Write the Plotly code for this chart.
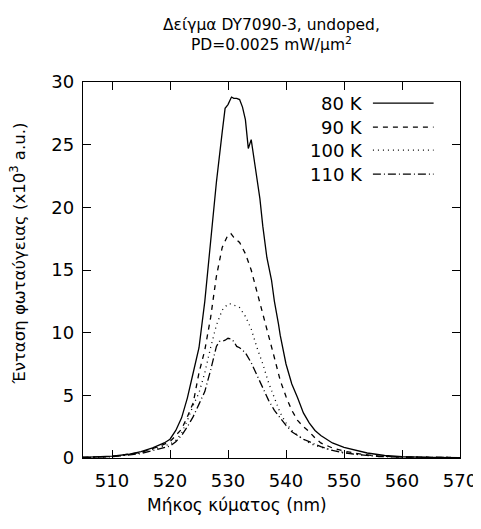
import plotly.graph_objects as go

# ---- data ----
wl_80 = [505, 510, 513, 515, 517, 519, 520, 521, 522, 523, 524, 525, 526, 527, 528, 529, 529.5, 530, 530.6, 531, 531.5, 532, 532.5, 533, 533.5, 534, 535, 535.5, 536, 536.7, 537.5, 538, 538.7, 539, 540, 541, 542, 543, 544, 545, 546, 548, 550, 552, 554, 557, 560, 565, 570]
i_80 = [0.05, 0.15, 0.3, 0.5, 0.8, 1.2, 1.5, 2.2, 3.2, 4.8, 6.8, 8.8, 12.5, 17.5, 22.0, 26.0, 27.9, 28.2, 28.8, 28.7, 28.7, 28.6, 28.0, 27.0, 24.7, 25.4, 22.5, 20.7, 18.5, 16.0, 14.2, 12.5, 10.7, 9.8, 7.5, 5.9, 4.8, 3.6, 2.8, 2.2, 1.8, 1.2, 0.85, 0.6, 0.4, 0.2, 0.1, 0.05, 0.03]

wl_90 = [505, 510, 515, 518, 520, 522, 523, 524, 525, 526, 527, 528, 529, 530, 530.5, 531, 532, 533, 534, 535, 536, 537, 538, 539, 540, 541, 542, 543, 544, 545, 546, 548, 550, 553, 556, 560, 570]
i_90 = [0.05, 0.12, 0.45, 0.9, 1.3, 2.3, 3.3, 4.4, 6.8, 8.6, 11.2, 14.5, 16.8, 17.8, 17.9, 17.6, 17.2, 16.3, 15.0, 13.3, 11.6, 9.8, 8.0, 6.2, 4.9, 3.8, 3.0, 2.5, 2.1, 1.6, 1.2, 0.8, 0.55, 0.3, 0.15, 0.08, 0.03]

wl_100 = [505, 510, 515, 518, 520, 521, 522, 523, 524, 525, 526, 527, 528, 529, 530, 530.5, 531, 532, 533, 534, 535, 536, 537, 538, 539, 540, 541, 542, 543, 544, 545, 546, 548, 550, 553, 556, 560, 570]
i_100 = [0.04, 0.12, 0.4, 0.8, 1.1, 1.4, 2.0, 3.0, 4.2, 5.2, 6.8, 8.8, 10.6, 11.8, 12.3, 12.3, 12.2, 12.0, 11.3, 10.3, 8.8, 7.5, 6.0, 4.8, 3.6, 2.8, 2.2, 1.8, 1.5, 1.2, 1.0, 0.85, 0.6, 0.45, 0.25, 0.15, 0.08, 0.03]

wl_110 = [505, 510, 515, 518, 520, 521, 522, 523, 524, 525, 526, 527, 528, 528.5, 529, 529.5, 530, 530.5, 531, 531.5, 532, 533, 534, 535, 536, 537, 538, 539, 540, 541, 542, 543, 544, 545, 546, 548, 550, 553, 556, 560, 570]
i_110 = [0.04, 0.1, 0.35, 0.7, 0.95, 1.3, 1.8, 2.5, 3.3, 4.3, 5.3, 7.0, 8.9, 9.3, 9.3, 9.4, 9.55, 9.5, 9.3, 8.9, 8.8, 8.4, 7.6, 6.6, 5.6, 4.6, 3.8, 3.2, 2.6, 2.1, 1.8, 1.5, 1.3, 1.1, 0.9, 0.6, 0.4, 0.25, 0.12, 0.07, 0.03]

labels = ["80 K", "90 K", "100 K", "110 K"]
dashes = ["solid", "5px,5px", "1px,4px", "8px,3px,1px,3px"]

x_ticks = [510, 520, 530, 540, 550, 560, 570]
y_ticks = [0, 5, 10, 15, 20, 25, 30]

FONT = "DejaVu Sans"

fig = go.Figure()
for wl, inten, lab, dsh in zip([wl_80, wl_90, wl_100, wl_110], [i_80, i_90, i_100, i_110], labels, dashes):
    fig.add_trace(go.Scatter(x=wl, y=inten, mode="lines", name=lab,
                             line=dict(color="black", width=1.3, dash=dsh),
                             showlegend=False))

# gnuplot-style key: text on the left, sample on the right
key_y = [0.944, 0.880, 0.819, 0.755]
for lab, dsh, ky in zip(labels, dashes, key_y):
    fig.add_annotation(x=0.748, y=ky, xref="paper", yref="paper", text=lab,
                       showarrow=False, xanchor="right", yanchor="middle",
                       font=dict(family=FONT, size=18, color="black"))
    fig.add_shape(type="line", xref="paper", yref="paper", x0=0.769, x1=0.93,
                  y0=ky, y1=ky, line=dict(color="black", width=1.3, dash=dsh))

# title
fig.add_annotation(x=0.501, y=1.0, xref="paper", yref="paper", yshift=26,
                   text="Δείγμα DY7090-3, undoped,<br>PD=0.0025 mW/μm<sup>2</sup>",
                   showarrow=False, xanchor="center", yanchor="bottom",
                   font=dict(family=FONT, size=15.5, color="black"))
# axis titles
fig.add_annotation(x=0.408, y=-0.125, xref="paper", yref="paper",
                   text="Μήκος κύματος (nm)", showarrow=False,
                   xanchor="center", yanchor="middle",
                   font=dict(family=FONT, size=17, color="black"))
fig.add_annotation(x=-0.172, y=0.544, xref="paper", yref="paper", textangle=-90,
                   text="Ένταση φωταύγειας (x10<sup>3</sup> a.u.)", showarrow=False,
                   xanchor="center", yanchor="middle",
                   font=dict(family=FONT, size=16.5, color="black"))

axis_common = dict(showline=True, linecolor="black", linewidth=1.3, mirror="allticks",
                   ticks="inside", ticklen=8, tickwidth=1.3, tickcolor="black",
                   showgrid=False, zeroline=False, automargin=False,
                   tickfont=dict(family=FONT, size=18, color="black"))

# the page body has an 8px default margin, so the figure is shrunk by 8px
fig.update_layout(
    width=473, height=521,
    margin=dict(l=75, r=21, t=74, b=71, autoexpand=False),
    plot_bgcolor="white", paper_bgcolor="white",
    font=dict(family=FONT, color="black"),
    xaxis=dict(range=[505, 570], tickvals=x_ticks, ticktext=[str(v) for v in x_ticks],
               ticklabelstandoff=6, **axis_common),
    yaxis=dict(range=[0, 30], tickvals=y_ticks, ticktext=[str(v) for v in y_ticks],
               ticklabelstandoff=4, **axis_common),
)

fig.write_html("out.html")
